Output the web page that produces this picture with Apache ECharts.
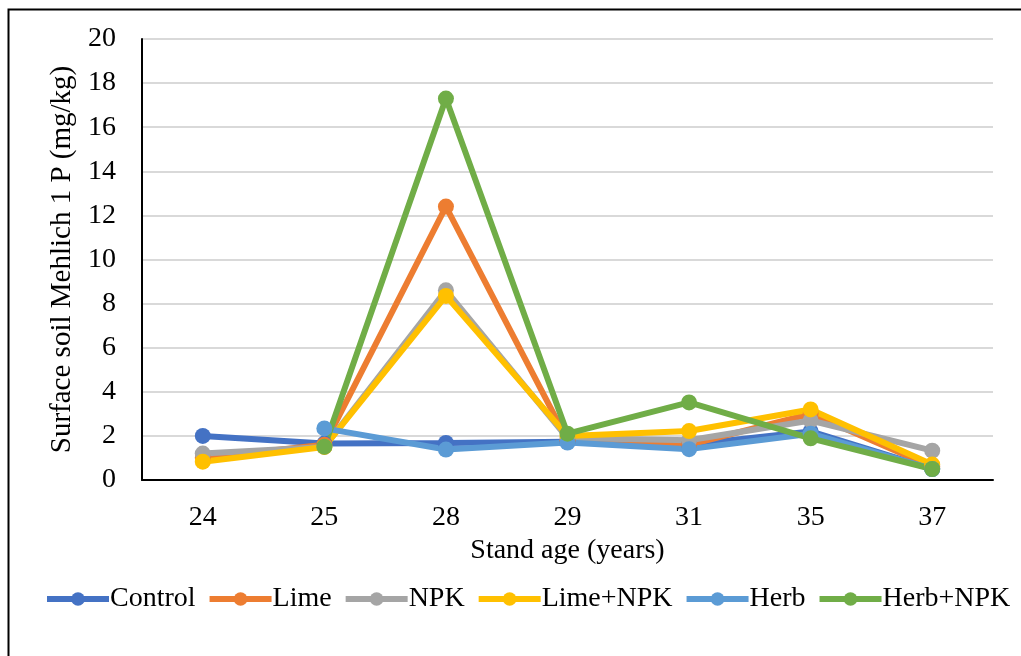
<!DOCTYPE html>
<html>
<head>
<meta charset="utf-8">
<script src="https://cdn.jsdelivr.net/npm/echarts@6/dist/echarts.min.js"></script>
<style>
html,body{margin:0;padding:0;background:#fff;}
#chart{width:1021px;height:656px;}
</style>
</head>
<body>
<div id="chart"></div>
<script>
const categories = ['24', '25', '28', '29', '31', '35', '37'];
const control = [2.0, 1.65, 1.68, 1.74, 1.6, 2.2, 0.5];
const lime = [1.0, 1.6, 12.4, 1.8, 1.6, 3.0, 0.6];
const npk = [1.2, 1.5, 8.6, 1.9, 1.8, 2.7, 1.33];
const limeNpk = [0.83, 1.5, 8.35, 2.0, 2.22, 3.2, 0.7];
const herb = [null, 2.34, 1.38, 1.7, 1.4, 2.1, 0.5];
const herbNpk = [null, 1.51, 17.3, 2.1, 3.52, 1.89, 0.5];
const yTicks = { min: 0, max: 20, interval: 2 };

const seriesDefs = [
  ['Control', control, '#4472C4'],
  ['Lime', lime, '#ED7D31'],
  ['NPK', npk, '#A5A5A5'],
  ['Lime+NPK', limeNpk, '#FFC000'],
  ['Herb', herb, '#5B9BD5'],
  ['Herb+NPK', herbNpk, '#70AD47']
];

const font = 'Liberation Serif';
const fs = 28;
const chart = echarts.init(document.getElementById('chart'));
chart.setOption({
  animation: false,
  backgroundColor: '#fff',
  graphic: [{
    type: 'rect', left: 6, top: 7, silent: true,
    shape: { width: 1100, height: 800 },
    style: { fill: 'none', stroke: '#000', lineWidth: 2 }
  }],
  grid: { left: 142, right: 28, top: 39, bottom: 176 },
  legend: {
    left: 44, top: 585, width: 1015, padding: 0,
    itemWidth: 62, itemHeight: 17, itemGap: 11,
    lineStyle: { width: 6 },
    textStyle: { fontFamily: font, fontSize: 28, color: '#000', padding: [0, 0, 0, -4] },
    data: seriesDefs.map(d => d[0])
  },
  xAxis: {
    type: 'category', data: categories,
    name: 'Stand age (years)', nameLocation: 'middle', nameGap: 56,
    nameTextStyle: { fontFamily: font, fontSize: fs, color: '#000' },
    axisLine: { lineStyle: { color: '#000', width: 2 } },
    axisTick: { show: false },
    axisLabel: { fontFamily: font, fontSize: fs, color: '#000', margin: 24 }
  },
  yAxis: {
    type: 'value', min: yTicks.min, max: yTicks.max, interval: yTicks.interval,
    name: 'Surface soil Mehlich 1 P (mg/kg)', nameLocation: 'middle', nameGap: 62,
    nameTextStyle: { fontFamily: font, fontSize: 29, color: '#000' },
    axisLine: { show: true, lineStyle: { color: '#000', width: 2 } },
    axisTick: { show: false },
    axisLabel: { fontFamily: font, fontSize: fs, color: '#000', margin: 26 },
    splitLine: { lineStyle: { color: '#d9d9d9', width: 2 } }
  },
  series: seriesDefs.map(d => ({
    name: d[0], type: 'line', data: d[1],
    symbol: 'circle', symbolSize: 16,
    lineStyle: { width: 6, color: d[2] },
    itemStyle: { color: d[2] },
    connectNulls: false
  }))
});
</script>
</body>
</html>
